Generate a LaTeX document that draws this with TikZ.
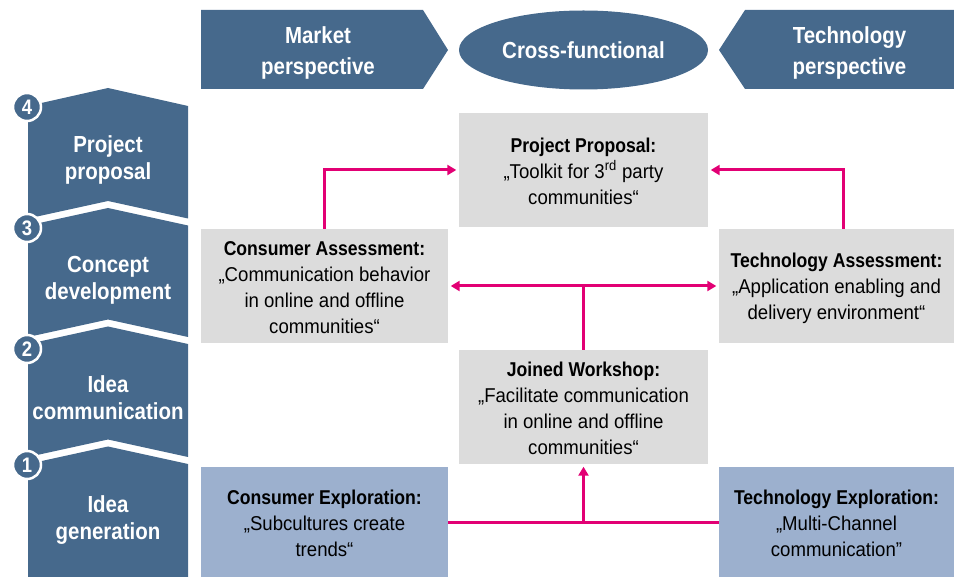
\documentclass[tikz,border=0pt]{standalone}
\usepackage{fontspec}
\setmainfont{Liberation Sans}[FakeStretch=0.93, BoldFeatures={FakeStretch=0.88}]
\usetikzlibrary{arrows.meta,shapes.geometric,calc}
\definecolor{tblue}{HTML}{46698C}
\definecolor{tgray}{HTML}{DCDCDC}
\definecolor{tlight}{HTML}{9CB0CE}
\definecolor{tmag}{HTML}{E20074}
\tikzset{
  hdr/.style={text=white, font=\fontsize{23.25}{30.5}\selectfont\bfseries, align=center, inner sep=0},
  lab/.style={text=white, font=\fontsize{23.25}{27}\selectfont\bfseries, align=center, inner sep=0},
  gbox/.style={fill=tgray, inner sep=0},
  lbox/.style={fill=tlight, inner sep=0},
  btxt/.style={align=center, inner sep=0, font=\fontsize{20}{26}\selectfont},
  num/.style={circle, fill=tblue, draw=white, line width=2.5pt, minimum size=28, inner sep=0, text=white, font=\fontsize{21}{21}\selectfont\bfseries},
  conn/.style={draw=tmag, line width=3pt, -{Triangle[length=9,width=10]}, shorten >=2.5pt},
  plain/.style={draw=tmag, line width=3pt},
}
\begin{document}
\begin{tikzpicture}[x=1pt,y=-1pt]
\useasboundingbox (0,0) rectangle (954,577);
% top banners
\fill[tblue] (201,10) -- (423,10) -- (448,50) -- (423,89) -- (201,89) -- cycle;
\node[hdr] (mp) at (318,53) {Market\\perspective};
\node[ellipse, fill=tblue, minimum width=249, minimum height=79, inner sep=0, text=white, font=\fontsize{23.25}{30}\selectfont\bfseries] (cf) at (583.5,50) {Cross-functional};
\fill[tblue] (719,50) -- (745,10) -- (954,10) -- (954,89) -- (745,89) -- cycle;
\node[hdr] (tp) at (849.5,53) {Technology\\perspective};
% left column
\fill[tblue] (28,106) -- (108,88) -- (188,106) -- (188,218.5) -- (108,201) -- (28,218.5) -- cycle;
\fill[tblue] (28,225.5) -- (108,208) -- (188,225.5) -- (188,337) -- (108,319.5) -- (28,337) -- cycle;
\fill[tblue] (28,344) -- (108,326.5) -- (188,344) -- (188,457) -- (108,439.5) -- (28,457) -- cycle;
\fill[tblue] (28,464) -- (108,446.5) -- (188,464) -- (188,577) -- (28,577) -- cycle;
\node[lab] (l4) at (108,160) {Project\\proposal};
\node[lab] (l3) at (108,280) {Concept\\development};
\node[lab] (l2) at (108,398) {Idea\\communication};
\node[lab] (l1) at (108,520) {Idea\\generation};
\node[num] (n4) at (27,107) {4};
\node[num] (n3) at (27,228) {3};
\node[num] (n2) at (27,349) {2};
\node[num] (n1) at (27,465) {1};
% boxes
\node[gbox, minimum width=249, minimum height=114] (pp) at (583.5,170) {};
\node[gbox, minimum width=247, minimum height=114] (ca) at (324.5,286) {};
\node[gbox, minimum width=235, minimum height=114] (ta) at (836.5,286) {};
\node[gbox, minimum width=249, minimum height=114] (jw) at (583.5,407) {};
\node[lbox, minimum width=247, minimum height=110] (ce) at (324.5,522) {};
\node[lbox, minimum width=235, minimum height=110] (te) at (836.5,522) {};
\node[btxt] (ppt) at ($(pp)+(0,1)$) {{\bfseries Project Proposal:}\\„Toolkit for 3\textsuperscript{rd} party\\communities“};
\node[btxt] (cat) at ($(ca)+(0,2)$) {{\bfseries Consumer Assessment:}\\„Communication behavior\\in online and offline\\communities“};
\node[btxt] (tat) at ($(ta)+(0,2.5)$) {{\bfseries Technology Assessment:}\\„Application enabling and\\delivery environment“};
\node[btxt] (jwt) at ($(jw)+(0,1.5)$) {{\bfseries Joined Workshop:}\\„Facilitate communication\\in online and offline\\communities“};
\node[btxt] (cet) at ($(ce)+(0,1.5)$) {{\bfseries Consumer Exploration:}\\„Subcultures create\\trends“};
\node[btxt] (tet) at ($(te)+(0,1.5)$) {{\bfseries Technology Exploration:}\\„Multi-Channel\\communication”};
% connectors
\draw[conn] (ca.north) |- (pp.west);
\draw[conn] ($(ta.north)+(6.5,0)$) |- (pp.east);
\draw[conn, {Triangle[length=9,width=10]}-{Triangle[length=9,width=10]}, shorten <=2.5pt] (ca.east) -- (ta.west);
\draw[plain] (jw.north) -- (jw.north |- ca.east);
\draw[plain] (ce.east) -- (te.west);
\draw[conn] (jw.south |- ce.east) -- (jw.south);
\end{tikzpicture}
\end{document}
